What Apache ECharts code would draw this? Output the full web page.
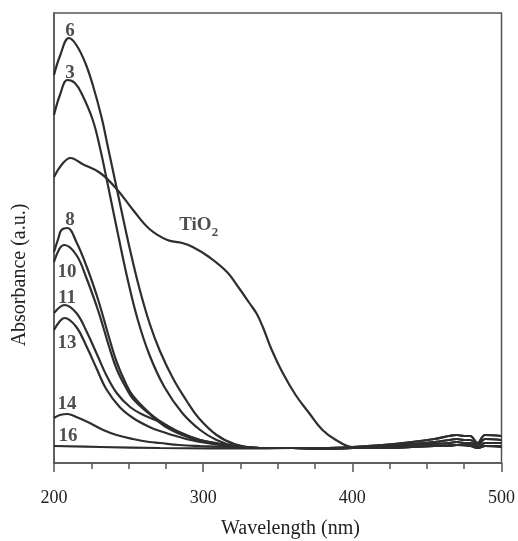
<!DOCTYPE html>
<html><head><meta charset="utf-8">
<script src="https://cdn.jsdelivr.net/npm/echarts@6/dist/echarts.min.js"></script>
<style>html,body{margin:0;padding:0;background:#fff}#c{width:518px;height:541px}</style>
</head><body><div id="c"></div>
<script>
// x axis ticks (nm)
const xTicks = [200, 300, 400, 500];
// tails of the spectra above ~340 nm (noise region)
const tailHigh = [[360,0.15],[380,0.15],[400,0.16],[420,0.18],[440,0.21],[455,0.24],[465,0.27],[470,0.28],[475,0.27],[479,0.27],[484,0.20],[489,0.28],[500,0.27]];
const tailMid  = [[360,0.15],[380,0.15],[400,0.15],[420,0.17],[440,0.19],[455,0.21],[465,0.23],[470,0.24],[475,0.23],[479,0.23],[484,0.18],[489,0.24],[500,0.23]];
const tailLow  = [[360,0.15],[380,0.14],[400,0.15],[420,0.16],[440,0.18],[455,0.19],[465,0.20],[470,0.21],[475,0.20],[479,0.20],[484,0.16],[489,0.20],[500,0.20]];
const tailBase = [[360,0.15],[380,0.14],[400,0.15],[420,0.15],[440,0.16],[455,0.17],[465,0.17],[470,0.18],[479,0.17],[484,0.15],[489,0.17],[500,0.16]];

// spectra [wavelength, absorbance]
const s6 = [[200,3.88],[204,4.07],[210,4.25],[215,4.18],[221,4.00],[226,3.78],[232,3.45],[236,3.17],[241,2.82],[246,2.47],[251,2.13],[257,1.76],[264,1.40],[271,1.12],[280,0.84],[289,0.62],[297,0.45],[309,0.28],[321,0.19],[338,0.15]];
const s3 = [[200,3.48],[204,3.68],[209,3.83],[214,3.80],[219,3.68],[226,3.43],[231,3.14],[235,2.86],[239,2.57],[243,2.28],[249,1.86],[256,1.44],[264,1.08],[274,0.76],[286,0.50],[298,0.33],[309,0.23],[321,0.17],[338,0.15]];
const sTiO2 = [[200,2.86],[205,2.98],[211,3.05],[219,2.99],[231,2.90],[242,2.74],[253,2.53],[264,2.34],[276,2.23],[286,2.20],[293,2.16],[304,2.06],[316,1.91],[324,1.75],[331,1.60],[336,1.49],[340,1.36],[346,1.13],[353,0.91],[362,0.68],[371,0.50],[380,0.33],[389,0.23],[400,0.16],[420,0.15],[440,0.16],[455,0.17],[465,0.18],[470,0.18],[479,0.18],[484,0.15],[489,0.17],[500,0.17]];
const s8 = [[200,2.11],[203,2.25],[205,2.33],[209,2.35],[215,2.21],[222,1.96],[229,1.66],[233,1.46],[237,1.25],[242,1.01],[248,0.80],[253,0.67],[264,0.50],[274,0.39],[286,0.29],[298,0.23],[318,0.18],[338,0.15]];
const s10 = [[200,2.01],[204,2.15],[207,2.18],[215,2.08],[222,1.84],[229,1.55],[233,1.36],[237,1.16],[242,0.94],[248,0.76],[253,0.64],[264,0.49],[274,0.37],[286,0.28],[298,0.22],[318,0.17],[338,0.15]];
const s11 = [[200,1.50],[204,1.56],[207,1.58],[215,1.50],[222,1.31],[229,1.08],[235,0.88],[242,0.70],[251,0.56],[260,0.48],[271,0.41],[284,0.31],[298,0.23],[318,0.17],[338,0.15]];
const s13 = [[200,1.33],[204,1.42],[207,1.45],[215,1.36],[222,1.16],[229,0.93],[235,0.74],[244,0.56],[253,0.45],[264,0.36],[271,0.32],[284,0.26],[298,0.21],[318,0.17],[338,0.15]];
const s14 = [[200,0.45],[204,0.48],[209,0.49],[215,0.46],[224,0.40],[233,0.33],[242,0.28],[253,0.24],[264,0.21],[271,0.20],[284,0.18],[298,0.17],[318,0.16],[338,0.15]];
const s16 = [[200,0.17],[231,0.16],[271,0.15],[338,0.145]];

// curve labels [text, wavelength, absorbance]
const curveLabels = [['6',210.7,4.32],['3',210.7,3.90],['8',210.7,2.43],['10',208.7,1.91],['11',208.7,1.65],['13',208.7,1.20],['14',208.7,0.59],['16',209.4,0.27]];
const tiO2Label = ['TiO2', 297, 2.37];

const lineColor = '#2e2e2e';
const axisColor = '#555';
const serif = '"Liberation Serif","Times New Roman",serif';

const chart = echarts.init(document.getElementById('c'), null, {renderer: 'canvas'});

function lineSeries(name, data) {
  return {
    name, type: 'line', data, showSymbol: false, smooth: 0.4,
    lineStyle: {color: lineColor, width: 2.2}, z: 2, animation: false
  };
}

const series = [
  lineSeries('6', s6.concat(tailHigh)),
  lineSeries('3', s3.concat(tailHigh)),
  lineSeries('TiO2', sTiO2),
  lineSeries('8', s8.concat(tailMid)),
  lineSeries('10', s10.concat(tailMid)),
  lineSeries('11', s11.concat(tailLow)),
  lineSeries('13', s13.concat(tailLow)),
  lineSeries('14', s14.concat(tailBase)),
  lineSeries('16', s16.concat(tailBase)),
  {
    type: 'scatter', symbolSize: 1, itemStyle: {color: 'transparent'}, z: 5, animation: false,
    data: curveLabels.map(l => [l[1], l[2], l[0]]),
    label: {show: true, position: 'inside', formatter: p => p.data[2],
      fontFamily: serif, fontWeight: 'bold', fontSize: 19, color: '#222'}
  },
  {
    type: 'scatter', symbolSize: 1, itemStyle: {color: 'transparent'}, z: 5, animation: false,
    data: [[tiO2Label[1], tiO2Label[2], tiO2Label[0]]],
    label: {show: true, position: 'inside', formatter: '{a|TiO}{b|2}',
      rich: {
        a: {fontFamily: serif, fontWeight: 'bold', fontSize: 19, color: '#222', verticalAlign: 'top', lineHeight: 20},
        b: {fontFamily: serif, fontWeight: 'bold', fontSize: 13, color: '#222', verticalAlign: 'top', lineHeight: 14, padding: [10, 0, 0, 0]}
      }}
  }
];

chart.setOption({
  animation: false,
  backgroundColor: '#fff',
  grid: {left: 54, top: 13, width: 449, height: 450, show: true, borderColor: axisColor, borderWidth: 1.5, backgroundColor: 'transparent'},
  xAxis: {
    type: 'value', min: xTicks[0], max: xTicks[xTicks.length - 1], interval: 100,
    axisLine: {show: true, lineStyle: {color: axisColor, width: 1.5}},
    axisTick: {show: true, inside: false, length: 9, lineStyle: {color: axisColor, width: 1.5}},
    minorTick: {show: true, splitNumber: 4, length: 6, lineStyle: {color: axisColor, width: 1.5}},
    splitLine: {show: false},
    axisLabel: {fontFamily: serif, fontSize: 18, color: '#222', margin: 26}
  },
  yAxis: {
    type: 'value', min: 0, max: 4.5,
    axisLine: {show: true, lineStyle: {color: axisColor, width: 1.5}},
    axisTick: {show: false}, axisLabel: {show: false}, splitLine: {show: false}
  },
  graphic: [
    {type: 'text', left: 221, top: 519, style: {text: 'Wavelength (nm)', font: '20px ' + serif, fill: '#222'}, silent: true},
    {type: 'text', x: 20, y: 275, rotation: Math.PI / 2, origin: [0, 0],
      style: {text: 'Absorbance (a.u.)', font: '20px ' + serif, fill: '#222', align: 'center', verticalAlign: 'middle'}, silent: true}
  ],
  series
});
</script>
</body></html>
